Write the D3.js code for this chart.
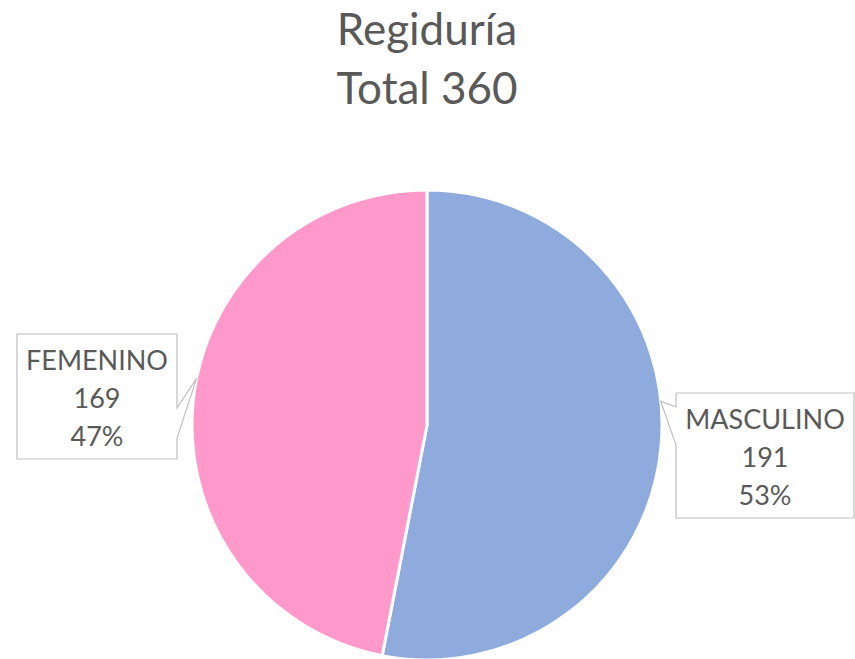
<!DOCTYPE html>
<html>
<head>
<meta charset="utf-8">
<script src="https://cdn.jsdelivr.net/npm/d3@7"></script>
<style>
  body { margin: 0; background: #fff; }
  text { font-family: Lato, "Open Sans", sans-serif; fill: #595959; }
</style>
</head>
<body>
<div id="chart"></div>
<script>
var categories = ["MASCULINO", "FEMENINO"];
var values = [191, 169];
var colors = ["#8FAADC", "#FF99CC"];
var titleLines = ["Regiduría", "Total 360"];

var width = 855, height = 659;
var cx = 427, cy = 425, r = 235;

var svg = d3.select("#chart").append("svg")
  .attr("width", width)
  .attr("height", height);

// title
svg.selectAll(".title")
  .data(titleLines)
  .enter()
  .append("text")
  .attr("class", "title")
  .attr("x", cx)
  .attr("y", function(d, i) { return 45 + i * 59; })
  .style("text-anchor", "middle")
  .style("font-size", "44px")
  .text(function(d) { return d; });

var total = d3.sum(values);
var data = categories.map(function(c, i) {
  return {name: c, value: values[i], color: colors[i]};
});

var pie = d3.pie().sort(null).value(function(d) { return d.value; });
var arc = d3.arc().innerRadius(0).outerRadius(r);

var g = svg.append("g")
  .attr("transform", "translate(" + cx + "," + cy + ")");

var arcs = pie(data);

g.selectAll("path")
  .data(arcs)
  .enter()
  .append("path")
  .attr("d", arc)
  .style("fill", function(d) { return d.data.color; })
  .style("stroke", "#fff")
  .style("stroke-width", 3);

// callout boxes (layout)
var boxes = [
  {x: 676, y: 393, w: 178, h: 125, side: "left", p1: 407, p2: 445, tipAngle: 1.47},
  {x: 17, y: 334, w: 160, h: 125, side: "right", p1: 408, p2: 438, tipAngle: -1.37}
];

arcs.forEach(function(a, i) {
  var b = boxes[i];
  var tx = cx + Math.sin(b.tipAngle) * r;
  var ty = cy - Math.cos(b.tipAngle) * r;
  var ex = b.side === "left" ? b.x : b.x + b.w;
  var pts = [
    [b.x, b.y], [b.x + b.w, b.y]
  ];
  if (b.side === "right") {
    pts.push([ex, b.p1], [tx, ty], [ex, b.p2]);
  }
  pts.push([b.x + b.w, b.y + b.h], [b.x, b.y + b.h]);
  if (b.side === "left") {
    pts.push([ex, b.p2], [tx, ty], [ex, b.p1]);
  }
  svg.append("path")
    .attr("d", "M" + pts.join("L") + "Z")
    .style("fill", "#fff")
    .style("stroke", "#bfbfbf")
    .style("stroke-width", 1.2);

  var lines = [a.data.name, a.data.value, Math.round(a.data.value / total * 100) + "%"];
  svg.append("g").selectAll("text")
    .data(lines)
    .enter()
    .append("text")
    .attr("x", b.x + b.w / 2)
    .attr("y", function(d, j) { return b.y + 36 + j * 38; })
    .style("text-anchor", "middle")
    .style("font-size", "27px")
    .text(function(d) { return d; });
});
</script>
</body>
</html>
